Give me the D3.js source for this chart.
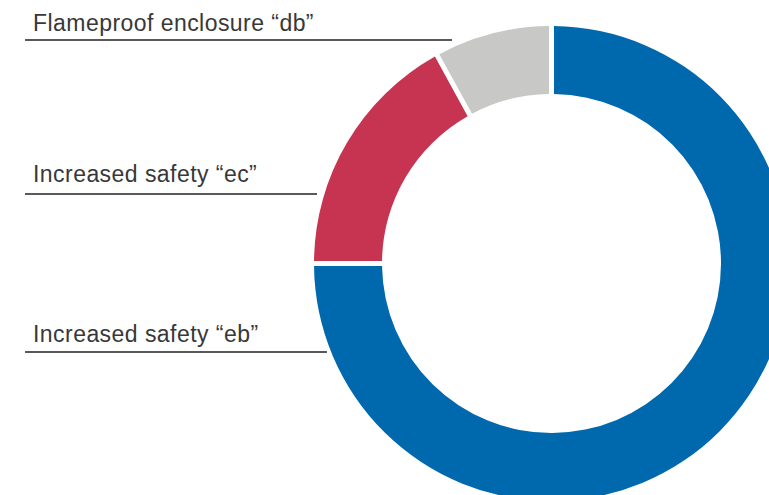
<!DOCTYPE html>
<html>
<head>
<meta charset="utf-8">
<script src="https://cdn.jsdelivr.net/npm/d3@7"></script>
<style>
  body { margin: 0; background: #fff; }
  text { font-family: "Liberation Sans", Arial, sans-serif; }
</style>
</head>
<body>
<svg width="769" height="495"></svg>
<script>
// data (share of types of protection, %)
var categories = ["Increased safety “eb”", "Increased safety “ec”", "Flameproof enclosure “db”"];
var values = [75, 17, 8];
var colors = ["#0069ad", "#c63452", "#c8c8c6"];

function main(){
    var svg = d3.select("svg"),
        cx = 551.5, cy = 263.5,
        rOut = 237.5, rIn = 169.5;

    var data = categories.map(function(c, i){ return {name: c, value: values[i], color: colors[i]}; });

    var pie = d3.pie().sort(null).value(function(d){ return d.value; });
    var arc = d3.arc().innerRadius(rIn).outerRadius(rOut)
        .padAngle(5 / rOut).padRadius(rOut);

    var g = svg.append("g").attr("transform", "translate(" + cx + "," + cy + ")");

    g.selectAll(".slice")
        .data(pie(data))
        .enter().append("path")
        .attr("class", "slice")
        .attr("fill", function(d){ return d.data.color; })
        .attr("d", arc);

    // labels with underline, placed left of the ring
    var labelY = {};
    labelY[categories[0]] = {text: 342, line: 352, x2: 327};
    labelY[categories[1]] = {text: 182, line: 194, x2: 317};
    labelY[categories[2]] = {text: 31, line: 40, x2: 452};

    var lab = svg.selectAll(".lab")
        .data(data)
        .enter().append("g")
        .attr("class", "lab");

    lab.append("text")
        .attr("x", 33)
        .attr("y", function(d){ return labelY[d.name].text; })
        .attr("font-size", 23)
        .attr("letter-spacing", 0.45)
        .attr("fill", "#383838")
        .text(function(d){ return d.name; });

    lab.append("line")
        .attr("x1", 25)
        .attr("x2", function(d){ return labelY[d.name].x2; })
        .attr("y1", function(d){ return labelY[d.name].line; })
        .attr("y2", function(d){ return labelY[d.name].line; })
        .attr("stroke", "#222")
        .attr("stroke-width", 1.5);
}
main();
</script>
</body>
</html>
